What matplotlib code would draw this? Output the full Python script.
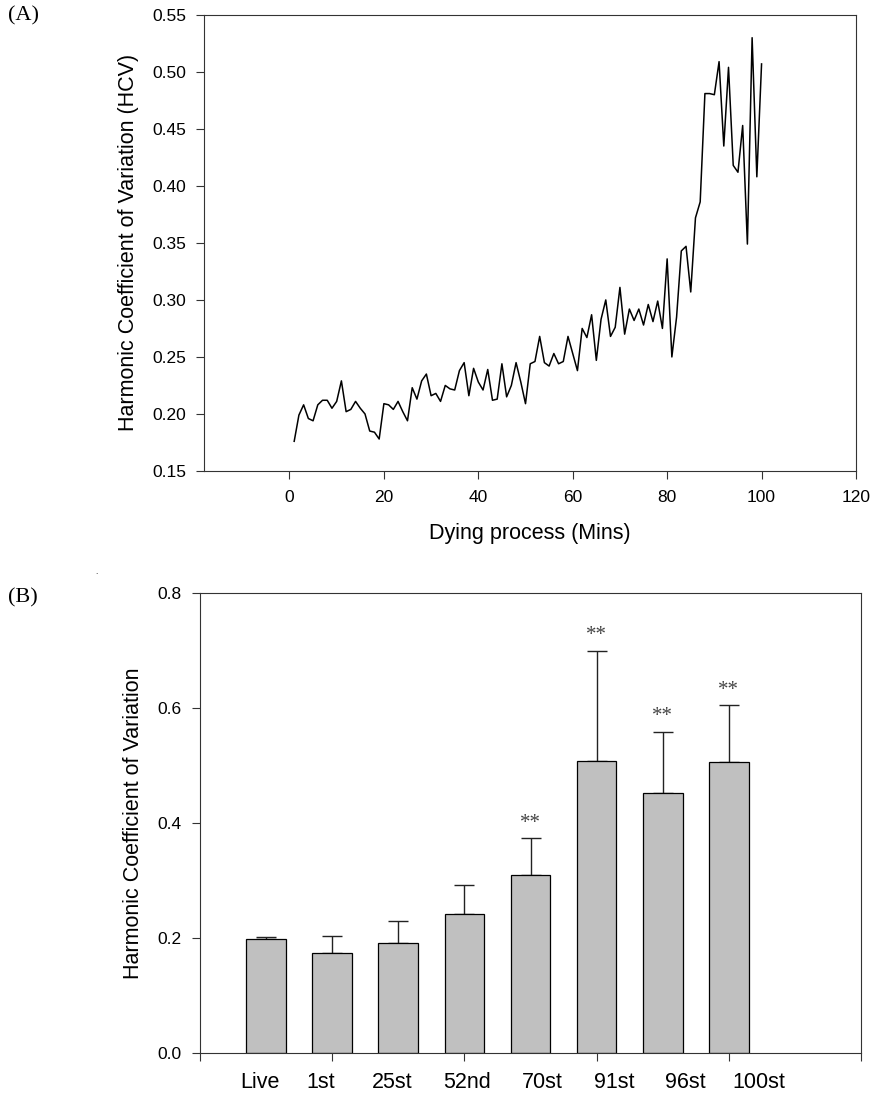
import numpy as np
import matplotlib
matplotlib.use('Agg')
import matplotlib.pyplot as plt
import matplotlib.transforms as mtransforms

# Panel A: HCV over the dying process (one reading per minute)
minutes = np.arange(1, 101)
hcv = [0.176, 0.199, 0.208, 0.196, 0.194, 0.208, 0.212, 0.212, 0.205, 0.211,
       0.229, 0.202, 0.204, 0.211, 0.205, 0.200, 0.185, 0.184, 0.178, 0.209,
       0.208, 0.204, 0.211, 0.202, 0.194, 0.223, 0.213, 0.229, 0.235, 0.216,
       0.218, 0.211, 0.225, 0.222, 0.221, 0.238, 0.245, 0.216, 0.240, 0.228,
       0.221, 0.239, 0.212, 0.213, 0.244, 0.215, 0.225, 0.245, 0.228, 0.209,
       0.244, 0.246, 0.268, 0.245, 0.242, 0.253, 0.244, 0.246, 0.268, 0.253,
       0.238, 0.275, 0.267, 0.287, 0.247, 0.283, 0.300, 0.268, 0.276, 0.311,
       0.270, 0.292, 0.282, 0.292, 0.278, 0.296, 0.281, 0.299, 0.275, 0.336,
       0.250, 0.285, 0.343, 0.347, 0.307, 0.372, 0.386, 0.481, 0.481, 0.480,
       0.509, 0.435, 0.504, 0.418, 0.412, 0.453, 0.349, 0.530, 0.408, 0.507]

# Panel B: mean HCV with upper error bars
stages = ['Live', '1st', '25st', '52nd', '70st', '91st', '96st', '100st']
means = [0.198, 0.174, 0.191, 0.243, 0.310, 0.508, 0.453, 0.506]
errs = [0.005, 0.030, 0.039, 0.049, 0.064, 0.192, 0.106, 0.099]
sig = ['', '', '', '', '**', '**', '**', '**']

plt.rcParams['font.family'] = ['Liberation Sans', 'DejaVu Sans']
spine_c = '#333333'

fig = plt.figure(figsize=(8.73, 10.96), dpi=100)

# ---- (A) line plot
ax1 = fig.add_axes([0.2337, 0.5703, 0.7468, 0.4161])
ax1.plot(minutes, hcv, color='black', lw=1.1)
ax1.set_xlim(-18.1, 120)
ax1.set_ylim(0.15, 0.55)
ax1.set_xticks(np.arange(0, 121, 20))
ax1.set_yticks(np.arange(0.15, 0.551, 0.05))
ax1.yaxis.set_major_formatter(matplotlib.ticker.FormatStrFormatter('%.2f'))
ax1.tick_params(axis='both', direction='out', length=6, width=0.8,
                labelsize=12.5, color=spine_c)
ax1.tick_params(axis='x', pad=8)
ax1.tick_params(axis='y', pad=7)
for s in ax1.spines.values():
    s.set_color(spine_c)
    s.set_linewidth(0.8)
ax1.set_xlabel('Dying process (Mins)', fontsize=15.5, labelpad=13)
ax1.set_ylabel('Harmonic Coefficient of Variation (HCV)', fontsize=15.5, labelpad=9)

# ---- (B) bar chart
ax2 = fig.add_axes([0.2291, 0.0390, 0.7572, 0.4197])
xpos = 0.5 + 0.5 * np.arange(len(stages))
ax2.bar(xpos, means, width=0.3, color='#c0c0c0', edgecolor='black',
        linewidth=0.9, zorder=2)
ax2.errorbar(xpos, means, yerr=[np.zeros(len(errs)), errs], fmt='none',
             ecolor='#222222', elinewidth=1.0, capsize=7, capthick=1.0, zorder=1)
offset = mtransforms.offset_copy(ax2.transData, fig=fig, y=4, units='points')
for x, m, e, s in zip(xpos, means, errs, sig):
    if s:
        ax2.text(x, m + e, s, transform=offset, ha='center', va='bottom',
                 fontsize=15, family='Liberation Serif', color='#444444')
ax2.set_xlim(0, 5)
ax2.set_ylim(0, 0.8)
ax2.set_xticks(np.arange(0, 6, 1))
ax2.set_xticklabels([])
ax2.set_yticks(np.arange(0, 0.81, 0.2))
ax2.yaxis.set_major_formatter(matplotlib.ticker.FormatStrFormatter('%.1f'))
ax2.tick_params(axis='both', direction='out', length=6, width=0.8,
                labelsize=12.5, color=spine_c)
ax2.tick_params(axis='y', pad=7)
for s in ax2.spines.values():
    s.set_color(spine_c)
    s.set_linewidth(0.8)
ax2.set_ylabel('Harmonic Coefficient of Variation', fontsize=15.5, labelpad=10)

label_x = [0.45, 0.91, 1.45, 2.02, 2.59, 3.13, 3.67, 4.23]
trans = mtransforms.blended_transform_factory(ax2.transData, ax2.transAxes)
for lx, name in zip(label_x, stages):
    ax2.text(lx, -0.064, name, transform=trans, ha='center', va='center',
             fontsize=15.5)

# panel letters
fig.text(8 / 873, 1 - 16 / 1096, '(A)', family='Liberation Serif', fontsize=16,
         va='center', ha='left')
fig.text(8 / 873, 1 - 598 / 1096, '(B)', family='Liberation Serif', fontsize=16,
         va='center', ha='left')
fig.text(96 / 873, 1 - 573 / 1096, '.', fontsize=6, va='center', ha='center')

fig.savefig('out.png', dpi=100)
